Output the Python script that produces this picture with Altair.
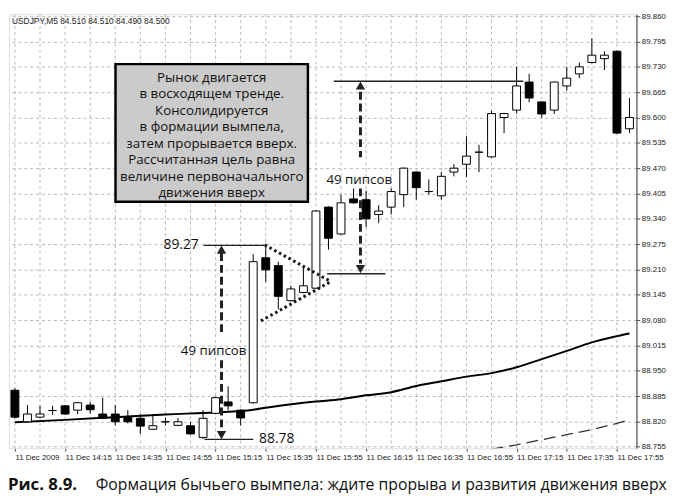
import altair as alt
import pandas as pd

# ---------------- data ----------------
bars = list(range(50))
opens = [88.900, 88.819, 88.831, 88.848, 88.860, 88.849, 88.862, 88.839, 88.839, 88.831,
         88.828, 88.800, 88.819, 88.810, 88.809, 88.779, 88.841, 88.870, 88.849, 88.868,
         89.240, 89.220, 89.130, 89.151, 89.162, 89.370, 89.301, 89.391, 89.389, 89.351,
         89.370, 89.402, 89.460, 89.410, 89.399, 89.460, 89.480, 89.511, 89.499, 89.600,
         89.619, 89.691, 89.640, 89.619, 89.681, 89.712, 89.741, 89.751, 89.770, 89.571]
highs = [88.905, 88.862, 88.860, 88.860, 88.862, 88.870, 88.870, 88.881, 88.862, 88.849,
         88.839, 88.839, 88.829, 88.829, 88.819, 88.849, 88.883, 88.910, 88.851, 89.249,
         89.276, 89.230, 89.168, 89.218, 89.362, 89.372, 89.402, 89.418, 89.412, 89.375,
         89.418, 89.472, 89.461, 89.441, 89.460, 89.480, 89.552, 89.530, 89.617, 89.612,
         89.730, 89.712, 89.641, 89.692, 89.730, 89.741, 89.803, 89.770, 89.772, 89.650]
lows = [88.828, 88.817, 88.829, 88.837, 88.837, 88.839, 88.840, 88.826, 88.810, 88.815,
        88.788, 88.798, 88.810, 88.808, 88.786, 88.775, 88.838, 88.849, 88.810, 88.866,
        89.178, 89.108, 89.128, 89.149, 89.160, 89.261, 89.299, 89.379, 89.319, 89.329,
        89.351, 89.370, 89.389, 89.402, 89.389, 89.449, 89.447, 89.460, 89.497, 89.560,
        89.610, 89.639, 89.599, 89.609, 89.669, 89.701, 89.739, 89.722, 89.558, 89.560]
closes = [88.831, 88.839, 88.839, 88.848, 88.839, 88.868, 88.850, 88.828, 88.819, 88.819,
          88.808, 88.809, 88.819, 88.819, 88.788, 88.828, 88.881, 88.860, 88.829, 89.230,
          89.209, 89.141, 89.160, 89.168, 89.360, 89.290, 89.381, 89.381, 89.340, 89.360,
          89.410, 89.470, 89.420, 89.410, 89.449, 89.470, 89.501, 89.511, 89.610, 89.610,
          89.681, 89.650, 89.609, 89.691, 89.701, 89.730, 89.760, 89.760, 89.560, 89.600]

ma_bars = [0, 4, 8, 12, 16, 19, 20, 22, 24, 26, 28, 30, 32, 34, 36, 38, 40, 42, 44, 46, 48, 49]
ma_vals = [88.818, 88.824, 88.831, 88.838, 88.843, 88.850, 88.855, 88.864, 88.871, 88.877,
           88.887, 88.895, 88.911, 88.923, 88.935, 88.944, 88.959, 88.980, 89.001, 89.023,
           89.039, 89.046]
ma2_bars = [38, 40, 42, 44, 46, 48, 49]
ma2_vals = [88.749, 88.760, 88.773, 88.786, 88.799, 88.815, 88.824]

y_ticks = [88.755, 88.820, 88.885, 88.950, 89.015, 89.080, 89.145, 89.210, 89.275,
           89.340, 89.405, 89.470, 89.535, 89.600, 89.665, 89.730, 89.795, 89.860]
x_label_bars = [0, 4, 8, 12, 16, 20, 24, 28, 32, 36, 40, 44, 48]
x_labels = ["11 Dec 2009", "11 Dec 14:15", "11 Dec 14:35", "11 Dec 14:55", "11 Dec 15:15",
            "11 Dec 15:35", "11 Dec 15:55", "11 Dec 16:15", "11 Dec 16:35", "11 Dec 16:55",
            "11 Dec 17:15", "11 Dec 17:35", "11 Dec 17:55"]
grid_bars = list(range(0, 50, 2))

header = "USDJPY,M5  84.510 84.510 84.490 84.500"
box_lines = ["Рынок двигается", "в восходящем тренде.", "Консолидируется",
             "в формации вымпела,", "затем прорывается вверх.", "Рассчитанная цель равна",
             "величине первоначального", "движения вверх"]
caption_num = "Рис. 8.9."
caption_text = "Формация бычьего вымпела: ждите прорыва и развития движения вверх"

# annotation anchors (bar index, price)
box_x = [8.02, 23.36]
box_y = [89.737, 89.384]
box_text_at = [15.69, 89.719]
level_lines = pd.DataFrame({
    "x": [25.42, 24.89, 15.04, 15.11],
    "x2": [40.53, 29.54, 19.92, 19.00],
    "y": [89.693, 89.199, 89.272, 88.774],
})
arrow_shafts = pd.DataFrame({
    "x": [27.55, 27.55, 16.47, 16.47],
    "y": [89.666, 89.418, 89.252, 88.977],
    "y2": [89.498, 89.225, 89.046, 88.798],
})
pennant = pd.DataFrame({
    "x": [19.92, 19.62],
    "x2": [25.19, 25.19],
    "y": [89.273, 89.078],
    "y2": [89.179, 89.179],
})
heads_up = pd.DataFrame({"x": [27.55, 16.47], "y": [89.693 - 0.011, 89.272 - 0.011]})
heads_down = pd.DataFrame({"x": [27.55, 16.47], "y": [89.200 + 0.011, 88.774 + 0.011]})
labels = pd.DataFrame({
    "x": [27.45, 15.84, 14.89, 19.47],
    "y": [89.439, 89.001, 89.272, 88.774],
    "t": ["49 пипсов", "49 пипсов", "89.27", "88.78"],
    "a": ["center", "center", "right", "left"],
})

# ---------------- chart ----------------
W, H = 636, 440
x_scale = alt.Scale(domain=[-0.08, 49.16], nice=False, zero=False)
y_scale = alt.Scale(domain=[88.751, 89.865], nice=False, zero=False)

lab_expr = "datum.value % 4 == 0 ? [" + ",".join("'" + s + "'" for s in x_labels) + "][datum.value / 4] : ''"
x_axis = alt.Axis(values=x_label_bars, labelExpr=lab_expr, labelAlign="left", labelFont="Liberation Sans",
                  labelFontSize=8, labelColor="#222", tickSize=3, tickColor="#555", grid=False,
                  domain=False, title=None, labelPadding=2, labelFlush=False, labelOverlap=False,
                  labelBound=False)
y_axis = alt.Axis(orient="right", values=y_ticks, format=".3f", labelFont="Liberation Sans",
                  labelFontSize=8, labelColor="#222", tickSize=3, tickColor="#444",
                  domainColor="#555", domainWidth=1.2, grid=True, gridDash=[3, 3],
                  gridColor="#b8b8b8", title=None, labelPadding=2)


def X(f):
    return alt.X(f, type="quantitative", scale=x_scale, axis=x_axis)


def Y(f):
    return alt.Y(f, type="quantitative", scale=y_scale, axis=y_axis)


df = pd.DataFrame({"bar": bars, "open": opens, "high": highs, "low": lows, "close": closes})

vgrid = alt.Chart(pd.DataFrame({"bar": grid_bars})).mark_rule(
    color="#b8b8b8", strokeDash=[3, 3], strokeWidth=1
).encode(x=X("bar"))

wicks = alt.Chart(df).mark_rule(color="black", strokeWidth=1, clip=True).encode(
    x=X("bar"), y=Y("low"), y2="high")
bodies = alt.Chart(df).mark_bar(size=8, stroke="black", strokeWidth=1, clip=True).encode(
    x=X("bar"), y=Y("open"), y2="close",
    fill=alt.condition("datum.close >= datum.open", alt.value("white"), alt.value("black")))

ma = alt.Chart(pd.DataFrame({"bar": ma_bars, "v": ma_vals})).mark_line(
    color="black", strokeWidth=2, interpolate="monotone", clip=True).encode(x=X("bar"), y=Y("v"))
ma2 = alt.Chart(pd.DataFrame({"bar": ma2_bars, "v": ma2_vals})).mark_line(
    color="#333", strokeWidth=1.3, strokeDash=[12, 6], clip=True).encode(x=X("bar"), y=Y("v"))

box = alt.Chart(pd.DataFrame({"x": [box_x[0]], "x2": [box_x[1]], "y": [box_y[0]], "y2": [box_y[1]]})).mark_rect(
    fill="#cbcbcb", stroke="black", strokeWidth=2.5).encode(x=X("x"), x2="x2", y=Y("y"), y2="y2")
box_text = alt.Chart(pd.DataFrame({"x": [box_text_at[0]], "y": [box_text_at[1]],
                                   "t": ["\n".join(box_lines)]})).mark_text(
    font="Open Sans", fontSize=13.5, lineBreak="\n", lineHeight=16.7, align="center",
    baseline="top", color="#111").encode(x=X("x"), y=Y("y"), text="t:N")

levels = alt.Chart(level_lines).mark_rule(color="#222", strokeWidth=1.3).encode(
    x=X("x"), x2="x2", y=Y("y"))
shafts = alt.Chart(arrow_shafts).mark_rule(color="#222", strokeWidth=3, strokeDash=[8, 4]).encode(
    x=X("x"), y=Y("y"), y2="y2")
penn = alt.Chart(pennant).mark_rule(color="#111", strokeWidth=3, strokeDash=[2.5, 3]).encode(
    x=X("x"), x2="x2", y=Y("y"), y2="y2")
hu = alt.Chart(heads_up).mark_point(shape="triangle-up", size=90, filled=True, color="#222",
                                    opacity=1).encode(x=X("x"), y=Y("y"))
hd = alt.Chart(heads_down).mark_point(shape="triangle-down", size=90, filled=True, color="#222",
                                      opacity=1).encode(x=X("x"), y=Y("y"))
lab_c = alt.Chart(labels[labels.a == "center"]).mark_text(
    font="Open Sans", fontSize=13.5, align="center", baseline="middle", color="#111").encode(
    x=X("x"), y=Y("y"), text="t:N")
lab_r = alt.Chart(labels[labels.a == "right"]).mark_text(
    font="Open Sans", fontSize=14, align="right", baseline="middle", color="#111", dx=-3).encode(
    x=X("x"), y=Y("y"), text="t:N")
lab_l = alt.Chart(labels[labels.a == "left"]).mark_text(
    font="Open Sans", fontSize=14, align="left", baseline="middle", color="#111").encode(
    x=X("x"), y=Y("y"), text="t:N")

head_text = alt.Chart(pd.DataFrame({"t": [header]})).mark_text(
    font="Liberation Sans", fontSize=8.5, align="left", baseline="middle", color="#222").encode(
    x=alt.value(3), y=alt.value(7), text="t:N")
cap1 = alt.Chart(pd.DataFrame({"t": [caption_num]})).mark_text(
    font="Open Sans", fontSize=17, fontWeight="bold", align="left", baseline="middle",
    color="#111").encode(x=alt.value(-1), y=alt.value(H + 37), text="t:N")
cap2 = alt.Chart(pd.DataFrame({"t": [caption_text]})).mark_text(
    font="Open Sans", fontSize=16, align="left", baseline="middle", color="#111").encode(
    x=alt.value(88), y=alt.value(H + 37), text="t:N")

chart = alt.layer(
    vgrid, ma2, ma, wicks, bodies, box, box_text, levels, shafts, penn, hu, hd,
    lab_c, lab_r, lab_l, head_text, cap1, cap2
).properties(
    width=W, height=H, padding={"left": 0, "top": 0, "right": 0, "bottom": 0}
).configure_view(stroke="#888", strokeWidth=1).configure(background="white")

chart.save("out.html", embed_options={"renderer": "svg", "actions": False})
